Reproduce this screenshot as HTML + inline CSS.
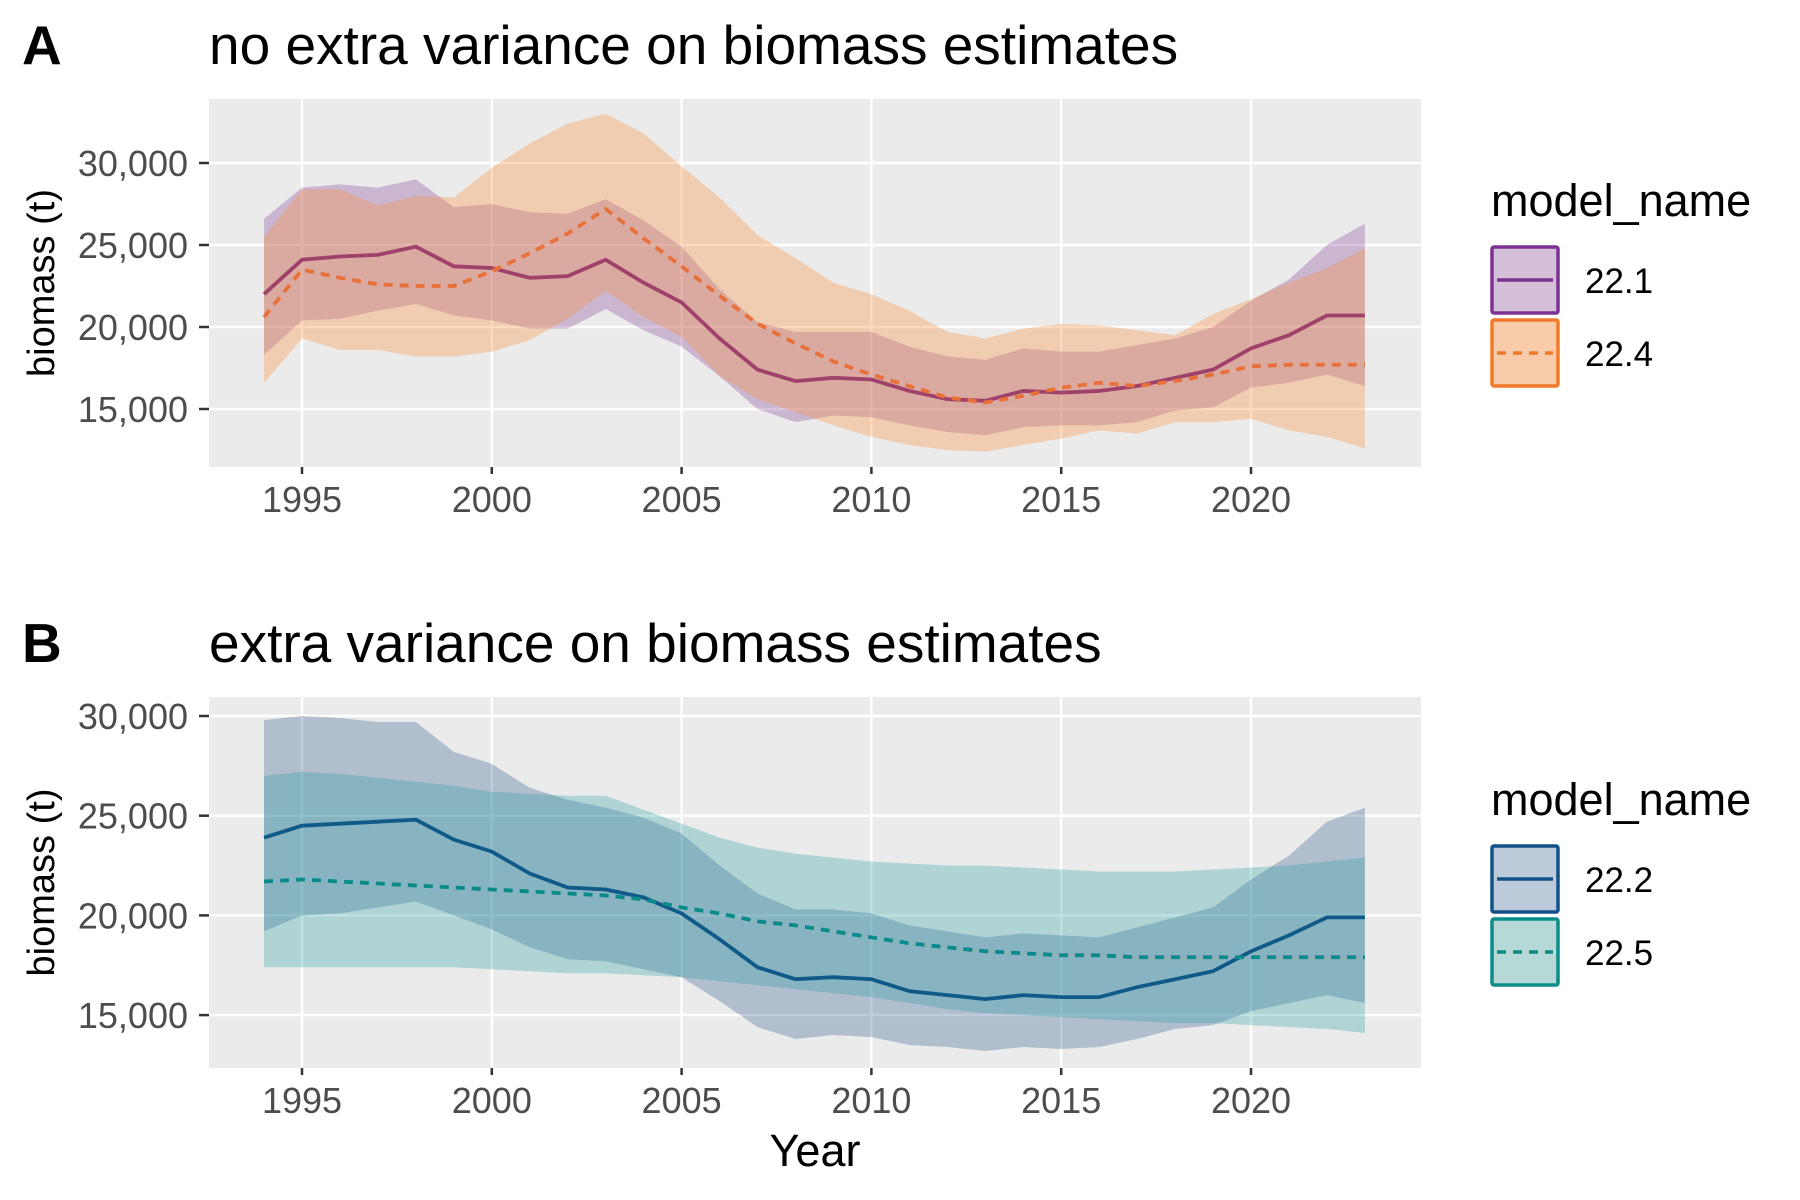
<!DOCTYPE html>
<html><head><meta charset="utf-8"><style>
body{margin:0;background:#fff}
svg{display:block;font-family:"Liberation Sans",Arial,sans-serif}
</style></head><body>
<svg id="chart" width="1800" height="1200" viewBox="0 0 1800 1200"></svg>
<script>
const years=[1994,1995,1996,1997,1998,1999,2000,2001,2002,2003,2004,2005,2006,2007,2008,2009,2010,2011,2012,2013,2014,2015,2016,2017,2018,2019,2020,2021,2022,2023];
const xTicks=[1995,2000,2005,2010,2015,2020];
const yTicks=[15000,20000,25000,30000];
const m221_med=[22000,24100,24300,24400,24900,23700,23600,23000,23100,24100,22700,21500,19300,17400,16700,16900,16800,16100,15600,15500,16100,16000,16100,16400,16900,17400,18700,19500,20700,20700];
const m221_hi=[26600,28500,28700,28500,29000,27300,27500,27000,26900,27800,26500,24900,22300,20300,19700,19700,19700,18800,18200,18000,18700,18500,18500,18900,19300,20000,21600,22900,25000,26300];
const m221_lo=[18300,20400,20500,21000,21400,20700,20400,19900,19900,21100,19800,18800,17000,15000,14200,14600,14500,14000,13600,13400,13900,14000,14000,14200,14900,15100,16300,16600,17100,16400];
const m224_med=[20600,23500,23000,22600,22500,22500,23400,24500,25700,27200,25400,23700,21900,20200,19000,17900,17100,16400,15700,15400,15800,16300,16600,16400,16700,17100,17600,17700,17700,17700];
const m224_hi=[25500,28400,28400,27400,28000,27900,29700,31200,32400,33000,31800,29800,27900,25600,24200,22700,22000,21000,19700,19300,19900,20200,20100,19800,19500,20800,21700,22700,23600,24800];
const m224_lo=[16600,19300,18600,18600,18200,18200,18500,19200,20500,22200,20600,19400,17000,15600,14800,14000,13300,12800,12500,12400,12800,13200,13700,13500,14200,14200,14400,13700,13300,12600];
const m222_med=[23900,24500,24600,24700,24800,23800,23200,22100,21400,21300,20900,20100,18800,17400,16800,16900,16800,16200,16000,15800,16000,15900,15900,16400,16800,17200,18200,19000,19900,19900];
const m222_hi=[29800,30000,29900,29700,29700,28200,27600,26400,25800,25400,24900,24100,22500,21100,20300,20300,20100,19500,19200,18900,19100,19000,18900,19400,19900,20400,21800,23000,24700,25400];
const m222_lo=[19200,20000,20100,20400,20700,20000,19300,18400,17800,17700,17300,16900,15700,14400,13800,14000,13900,13500,13400,13200,13400,13300,13400,13800,14300,14500,15200,15600,16000,15600];
const m225_med=[21700,21800,21700,21600,21500,21400,21300,21200,21100,21000,20800,20400,20100,19700,19500,19200,18900,18600,18400,18200,18100,18000,18000,17900,17900,17900,17900,17900,17900,17900];
const m225_hi=[27000,27200,27100,26900,26700,26500,26200,26100,26000,26000,25300,24600,23900,23400,23100,22900,22700,22600,22500,22500,22400,22300,22200,22200,22200,22300,22400,22500,22700,22900];
const m225_lo=[17400,17400,17400,17400,17400,17400,17300,17200,17100,17100,17000,16900,16700,16500,16300,16100,15900,15600,15300,15100,15000,14900,14800,14700,14600,14600,14500,14400,14300,14100];

const NS="http://www.w3.org/2000/svg";
const svg=document.getElementById('chart');
function mk(tag,attrs,parent,text){const e=document.createElementNS(NS,tag);for(const k in attrs)e.setAttribute(k,attrs[k]);if(text!==undefined)e.textContent=text;(parent||svg).appendChild(e);return e;}
const xScale=y=>302+(y-1995)*37.96;
function panel(cfg){
  const g=mk('g',{});
  
  
  const yS=v=>cfg.y30+(30000-v)/5000*cfg.per5k;
  const bg=mk('rect',{x:209,y:cfg.top,width:1212,height:cfg.bottom-cfg.top,fill:'#ebebeb'},g);
  
  xTicks.forEach(t=>{const l=mk('line',{x1:xScale(t),x2:xScale(t),y1:cfg.top,y2:cfg.bottom,stroke:'#fff','stroke-width':2.5},g);
    
    const tk=mk('line',{x1:xScale(t),x2:xScale(t),y1:cfg.bottom,y2:cfg.bottom+7,stroke:'#333','stroke-width':2.5},g);
    
    const tx=mk('text',{x:xScale(t),y:cfg.bottom+45,'font-size':36,fill:'#4d4d4d','text-anchor':'middle'},g,String(t));
    });
  yTicks.forEach(t=>{const l=mk('line',{x1:209,x2:1421,y1:yS(t),y2:yS(t),stroke:'#fff','stroke-width':2.5},g);
    
    const tk=mk('line',{x1:199,x2:209,y1:yS(t),y2:yS(t),stroke:'#333','stroke-width':2.5},g);
    
    const tx=mk('text',{x:188,y:yS(t)+13,'font-size':36,fill:'#4d4d4d','text-anchor':'end'},g,t.toLocaleString('en-US'));
    });
  cfg.series.forEach(s=>{
    let d='M'+years.map((y,i)=>xScale(y)+','+yS(s.hi[i])).join('L')+'L'+years.slice().reverse().map((y,j)=>{const i=years.length-1-j;return xScale(y)+','+yS(s.lo[i]);}).join('L')+'Z';
    const r=mk('path',{d:d,fill:s.fill},g);
    });
  cfg.series.forEach(s=>{
    const p=mk('polyline',{points:years.map((y,i)=>xScale(y)+','+yS(s.med[i])).join(' '),fill:'none',stroke:s.line,'stroke-width':3.8,'stroke-dasharray':s.dash||'none'},g);
    });
  const cy=(cfg.top+cfg.bottom)/2;
  const lt=mk('text',{x:0,y:0,'font-size':38,fill:'#000','text-anchor':'middle',transform:`translate(54 ${cy}) rotate(-90)`},g,'biomass (t)');
  
  const pl=mk('text',{x:22,y:cfg.titleY,'font-size':55,'font-weight':'bold'},g,cfg.letter);
  
  const ti=mk('text',{x:209,y:cfg.titleY,'font-size':55},g,cfg.title);
  
  const lg=mk('g',{},g);
  const lgt=mk('text',{x:1491,y:cfg.legY,'font-size':45},lg,'model_name');
  
  cfg.series.forEach((s,k)=>{const y0=cfg.legY+31+k*73;
    const e=mk('g',{},lg);
    mk('rect',{x:1492,y:y0,width:66,height:66,fill:s.key,stroke:s.border,'stroke-width':3.5,rx:2},e);
    mk('line',{x1:1497,x2:1553,y1:y0+33,y2:y0+33,stroke:s.border,'stroke-width':3.5,'stroke-dasharray':s.dash||'none'},e);
    mk('text',{x:1585,y:y0+46,'font-size':35},e,s.label);});
}
panel({name:'panel-a',letter:'A',title:'no extra variance on biomass estimates',titleY:64,top:99,bottom:467,y30:163,per5k:82,legY:216,
 series:[{label:'22.1',med:m221_med,hi:m221_hi,lo:m221_lo,fill:'rgba(125,60,150,0.3)',line:'#a0416b',key:'#d5c0da',border:'#7b3294'},
         {label:'22.4',med:m224_med,hi:m224_hi,lo:m224_lo,fill:'rgba(250,150,70,0.35)',line:'#e8703a',dash:'9 7',key:'#f8ccaa',border:'#f07a2a'}]});
panel({name:'panel-b',letter:'B',title:'extra variance on biomass estimates',titleY:662,top:697,bottom:1068,y30:716,per5k:99.7,legY:815,
 series:[{label:'22.2',med:m222_med,hi:m222_hi,lo:m222_lo,fill:'rgba(40,85,140,0.3)',line:'#105a8a',key:'#bccada',border:'#12508a'},
         {label:'22.5',med:m225_med,hi:m225_hi,lo:m225_lo,fill:'rgba(40,160,160,0.3)',line:'#0a8a8a',dash:'9 7',key:'#b6d9d8',border:'#0a8c88'}]});
const xt=mk('text',{x:815,y:1166,'font-size':45,'text-anchor':'middle'},svg,'Year');


</script>
</body></html>
